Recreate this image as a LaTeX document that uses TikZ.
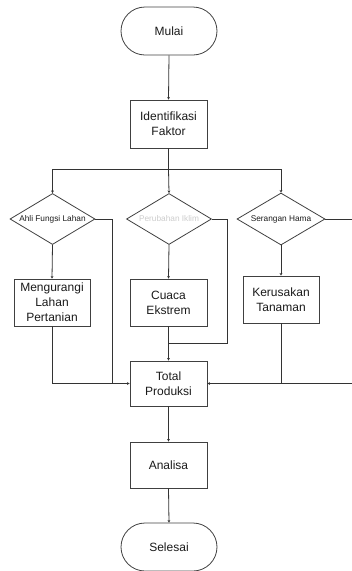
\documentclass[tikz,border=0pt]{standalone}
\usepackage{fontspec}
\setmainfont{Liberation Sans}
\usetikzlibrary{shapes.geometric,arrows.meta}
\definecolor{ln}{HTML}{333333}
\definecolor{bd}{HTML}{404040}
\definecolor{tx}{HTML}{1A1A1A}
\begin{document}
\begin{tikzpicture}[x=1pt,y=-1pt,
  line width=0.8pt,
  conn/.style={draw=ln,line width=0.8pt},
  arr/.style={conn,-{Stealth[length=2.6pt,width=2.8pt]}},
  term/.style={draw=bd,rounded corners=24pt,minimum width=96pt,minimum height=48pt,inner sep=0pt,font=\fontsize{12}{15}\selectfont,text=tx},
  procbox/.style={draw=bd,minimum width=77pt,minimum height=47pt,inner sep=0pt,align=center,font=\fontsize{12}{15}\selectfont,text=tx},
  decis/.style={draw=bd,diamond,inner sep=0pt,aspect=1.65,minimum width=85pt,minimum height=51pt,font=\fontsize{8.3}{10}\selectfont,text=tx}
]
\useasboundingbox (0,0) rectangle (352,571);
\node[term] (mulai) at (169,31) {Mulai};
\node[procbox,minimum height=48pt] (ident) at (168.5,124) {Identifikasi\\Faktor};
\node[decis] (d1) at (52.5,219) {Ahli Fungsi Lahan};
\node[decis,text=black!20] (d2) at (169,219) {Perubahan Iklim};
\node[decis,minimum width=88pt,minimum height=52pt] (d3) at (281,219) {Serangan Hama};
\node[procbox,minimum width=76pt] (mlp) at (52,302.5) {Mengurangi\\Lahan\\Pertanian};
\node[procbox] (cuaca) at (168.5,302.5) {Cuaca\\Ekstrem};
\node[procbox,minimum width=76pt] (kerus) at (281,299.5) {Kerusakan\\Tanaman};
\node[procbox,minimum height=45pt] (total) at (168.5,383.5) {Total\\Produksi};
\node[procbox,minimum height=46pt] (anal) at (168.5,465) {Analisa};
\node[term] (selesai) at (169,547) {Selesai};

\coordinate (split) at (168.5,169);
\coordinate (tl) at (52.5,169);
\coordinate (tr) at (281,169);
\coordinate (d1r) at (112,219);
\coordinate (j1) at (112,383.5);
\coordinate (mlpj) at (52,383.5);
\coordinate (d2r) at (227,219);
\coordinate (d2b) at (227,343);
\coordinate (cj) at (168.5,343);
\coordinate (d3end) at (352,219);
\coordinate (rend) at (352,383.5);
\coordinate (kj) at (281,383.5);

\draw[arr] (mulai.south) -- (ident.north);
\draw[conn] (ident.south) -- (split);
\draw[conn] (tl) -- (tr);
\draw[arr] (split) -- (d2.north);
\draw[arr] (tl) -- (d1.north);
\draw[arr] (tr) -- (d3.north);
\draw[arr] (d1.south) -- (mlp.north);
\draw[arr] (d2.south) -- (cuaca.north);
\draw[arr] (d3.south) -- (kerus.north);
\draw[conn] (d1.east) -- (d1r) -- (j1);
\draw[conn] (mlp.south) -- (mlpj) -- (j1);
\draw[arr] (j1) -- (total.west);
\draw[conn] (d2.east) -- (d2r) -- (d2b) -- (cj);
\draw[arr] (cuaca.south) -- (total.north);
\draw[conn] (d3.east) -- (d3end);
\draw[arr] (rend) -- (total.east);
\draw[conn] (kerus.south) -- (kj);
\draw[arr] (total.south) -- (anal.north);
\draw[arr] (anal.south) -- (selesai.north);
\end{tikzpicture}
\end{document}
